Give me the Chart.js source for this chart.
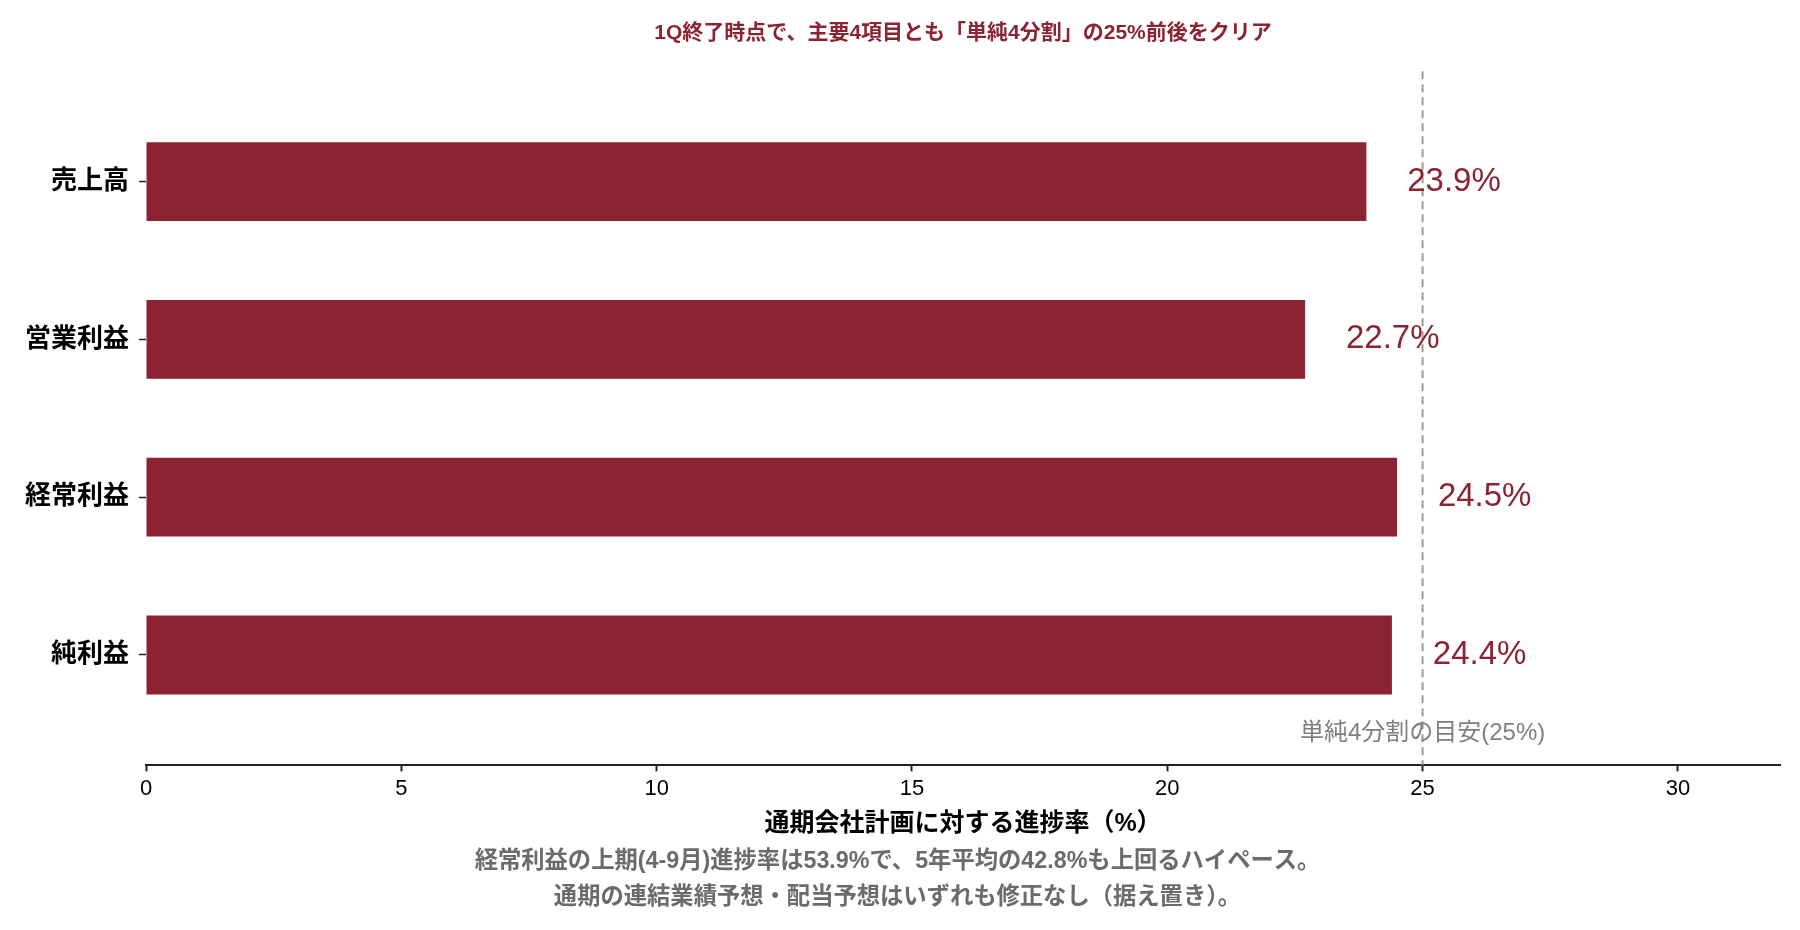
<!DOCTYPE html>
<html lang="ja">
<head>
<meta charset="utf-8">
<title>1Q進捗率</title>
<script src="https://cdn.jsdelivr.net/npm/chart.js@4.4.1/dist/chart.umd.min.js"></script>
<style>
  html, body { margin: 0; padding: 0; background: #fff; overflow: hidden; }
  #progressChart { display: block; }
</style>
</head>
<body>
<canvas id="progressChart" width="1800" height="930"></canvas>
<script>
// 1Q progress against the full-year company plan

const items = ['売上高', '営業利益', '経常利益', '純利益'];
const progressRates = [23.9, 22.7, 24.5, 24.4];
const xTicks = [0, 5, 10, 15, 20, 25, 30];
const benchmark = 25;
const titleText = '1Q終了時点で、主要4項目とも「単純4分割」の25%前後をクリア';
const xAxisTitle = '通期会社計画に対する進捗率（%）';
const benchmarkLabel = '単純4分割の目安(25%)';
const notes = [
  '経常利益の上期(4-9月)進捗率は53.9%で、5年平均の42.8%も上回るハイペース。',
  '通期の連結業績予想・配当予想はいずれも修正なし（据え置き）。'
];

const FONT = '"Liberation Sans", "Noto Sans CJK JP", sans-serif';
const BAR_RED = '#8b2332';

// dashed 25% guide, value labels and the guide's caption
const overlayPlugin = {
  id: 'overlay',
  afterDatasetsDraw(chart) {
    const { ctx, chartArea, scales: { x, y } } = chart;
    const bx = x.getPixelForValue(benchmark);
    ctx.save();
    ctx.strokeStyle = '#9a9a9a';
    ctx.lineWidth = 2;
    ctx.setLineDash([8, 5]);
    ctx.beginPath();
    ctx.moveTo(bx, chartArea.top);
    ctx.lineTo(bx, chartArea.bottom);
    ctx.stroke();
    ctx.setLineDash([]);

    ctx.fillStyle = BAR_RED;
    ctx.font = `33px ${FONT}`;
    ctx.textAlign = 'left';
    ctx.textBaseline = 'middle';
    progressRates.forEach((v, i) => {
      ctx.fillText(v.toFixed(1) + '%', x.getPixelForValue(v + 0.8), y.getPixelForValue(i));
    });

    ctx.fillStyle = '#7f7f7f';
    ctx.font = `24px ${FONT}`;
    ctx.textAlign = 'center';
    ctx.fillText(benchmarkLabel, bx, y.getPixelForValue(3.5));
    ctx.restore();
  }
};

new Chart(document.getElementById('progressChart'), {
  type: 'bar',
  data: {
    datasets: [{
      data: progressRates.map((v, i) => ({ x: v, y: i })),
      backgroundColor: BAR_RED,
      borderWidth: 0,
      barPercentage: 0.5,
      categoryPercentage: 1
    }]
  },
  options: {
    indexAxis: 'y',
    responsive: false,
    devicePixelRatio: 1,
    animation: false,
    layout: { padding: { left: 15, right: 20, top: 0, bottom: 0 } },
    plugins: {
      legend: { display: false },
      tooltip: { enabled: false },
      title: {
        display: true,
        text: titleText,
        fullSize: false,
        color: BAR_RED,
        font: { family: FONT, size: 21, weight: 'bold' },
        padding: { top: 21, bottom: 25 }
      },
      subtitle: {
        display: true,
        position: 'bottom',
        text: notes,
        color: '#6b6b6b',
        font: { family: FONT, size: 23.3, weight: 'bold', lineHeight: 1.55 },
        padding: { top: 5, bottom: 14 }
      }
    },
    scales: {
      x: {
        type: 'linear',
        min: 0,
        max: 32,
        afterBuildTicks: (axis) => { axis.ticks = xTicks.map(v => ({ value: v })); },
        border: { display: true, color: '#222', width: 2 },
        grid: { drawOnChartArea: false, tickLength: 6, tickColor: '#222', tickWidth: 2 },
        ticks: { padding: 4, color: '#000', maxRotation: 0, font: { family: FONT, size: 22 } },
        title: {
          display: true,
          text: xAxisTitle,
          color: '#000',
          font: { family: FONT, size: 25, weight: 'bold' },
          padding: { top: 3, bottom: 0 }
        }
      },
      y: {
        type: 'linear',
        reverse: true,
        offset: false,
        min: -0.7,
        max: 3.7,
        afterBuildTicks: (axis) => { axis.ticks = items.map((_, i) => ({ value: i })); },
        border: { display: false },
        grid: { offset: false, drawOnChartArea: false, tickLength: 7, tickColor: '#222', tickWidth: 1.5 },
        ticks: {
          padding: 10,
          color: '#000',
          font: { family: FONT, size: 26, weight: 'bold' },
          callback: (v) => items[v]
        }
      }
    }
  },
  plugins: [overlayPlugin]
});
</script>
</body>
</html>
